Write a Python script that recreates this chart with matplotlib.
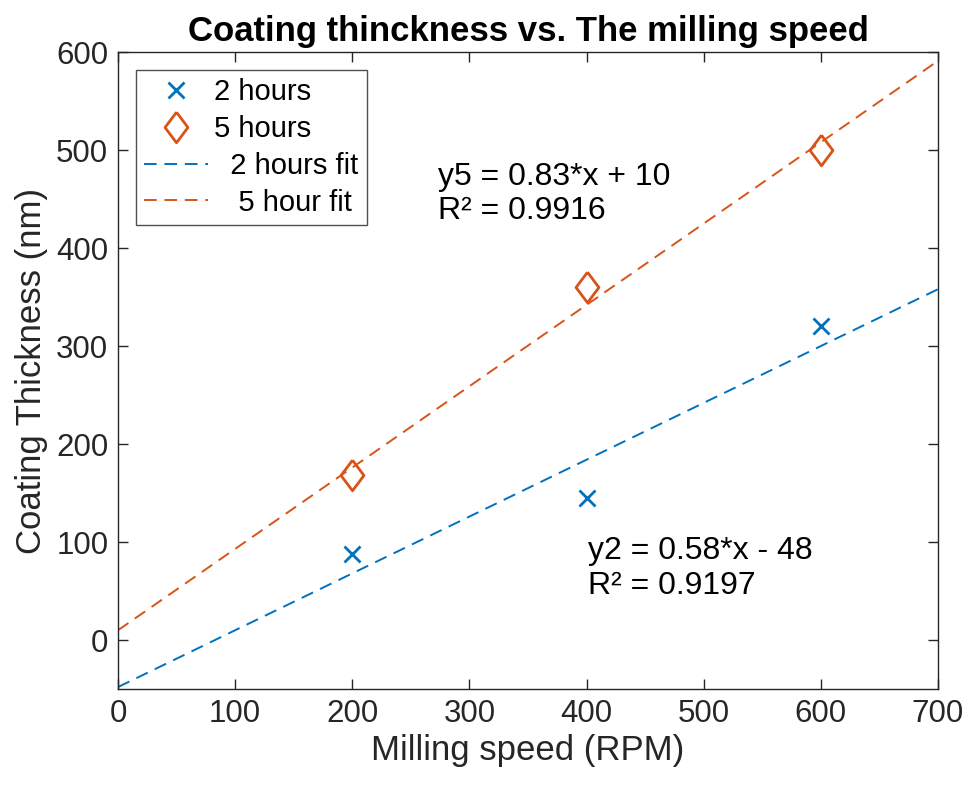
#!/usr/bin/env python
'''coating thickness vs milling speed, two milling times with linear fits'''

import matplotlib
matplotlib.use('Agg')
import matplotlib.pyplot as plt
import numpy as np

plt.rcParams['font.family'] = ['Liberation Sans', 'DejaVu Sans']

# measured points
speed = [200, 400, 600]
thick_2h = [88, 145, 320]
thick_5h = [168, 360, 500]

# fit coefficients shown on the chart (slope, intercept)
fit_2h = (0.58, -48)
fit_5h = (0.83, 10)
r2_2h = 0.9197
r2_5h = 0.9916

blue = '#0072BD'
orange = '#D95319'
grey = '#262626'

# taller-than-wide diamond like the matlab marker
diamond = [(0, 1), (0.75, 0), (0, -1), (-0.75, 0), (0, 1)]

fig = plt.figure(figsize=(9.72, 7.89), dpi=100)
ax = fig.add_axes([0.1214, 0.1267, 0.8436, 0.8073])

ax.plot(speed, thick_2h, linestyle='none', marker='x', color=blue,
        markersize=11, markeredgewidth=2, label='2 hours')
ax.plot(speed, thick_5h, linestyle='none', marker=diamond, color=orange,
        markerfacecolor='none', markersize=22, markeredgewidth=2,
        label='5 hours')

xfit = np.array([0, 700])
ax.plot(xfit, fit_2h[0] * xfit + fit_2h[1], '--', color=blue, lw=1.4,
        dashes=(6.5, 4), label='  2 hours fit')
ax.plot(xfit, fit_5h[0] * xfit + fit_5h[1], '--', color=orange, lw=1.4,
        dashes=(6.5, 4), label='   5 hour fit')

# fit equations
ax.text(273, 455, 'y5 = %.2f*x + %d\nR² = %.4f' % (fit_5h[0], fit_5h[1], r2_5h),
        fontsize=23, va='center', ha='left', linespacing=1.2)
ax.text(401, 73, 'y2 = %.2f*x - %d\nR² = %.4f' % (fit_2h[0], -fit_2h[1], r2_2h),
        fontsize=23, va='center', ha='left', linespacing=1.2)

ax.set_xlim(0, 700)
ax.set_ylim(-50, 600)
ax.set_xticks(range(0, 701, 100))
ax.set_yticks(range(0, 601, 100))
ax.tick_params(labelsize=22.5, direction='in', length=7, width=1,
               colors=grey, top=True, right=True, pad=7)
for s in ax.spines.values():
    s.set_color(grey)
    s.set_linewidth(1)

ax.set_xlabel('Milling speed (RPM)', fontsize=25, color=grey, labelpad=4)
ax.set_ylabel('Coating Thickness (nm)', fontsize=25, color=grey, labelpad=6)
ax.set_title('Coating thinckness vs. The milling speed', fontsize=25,
             fontweight='bold', pad=8)

leg = ax.legend(loc='upper left', fontsize=21, frameon=True, fancybox=False,
                edgecolor=grey, borderpad=0.3, handlelength=2.2,
                handletextpad=0.2, labelspacing=0.3, borderaxespad=0.6)
leg.get_frame().set_linewidth(1)

fig.savefig('out.png', dpi=100)
